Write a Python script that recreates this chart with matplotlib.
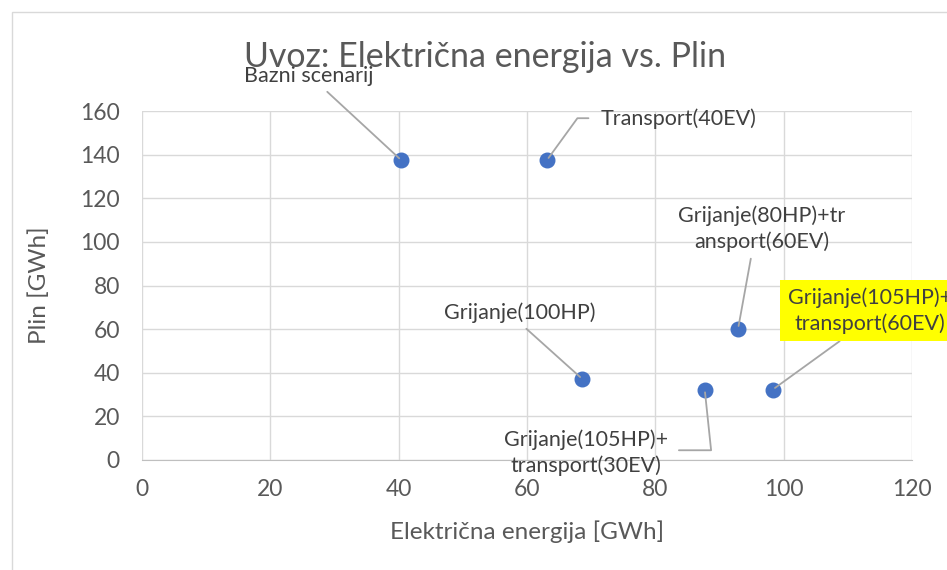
import matplotlib.pyplot as plt
from matplotlib.patches import Rectangle

# podaci ocitani sa slike
labels = ['Bazni scenarij', 'Transport(40EV)', 'Grijanje(100HP)',
          'Grijanje(105HP)+\ntransport(30EV)', 'Grijanje(80HP)+tr\nansport(60EV)',
          'Grijanje(105HP)+\ntransport(60EV)']
struja = [40.4, 63.1, 68.6, 87.7, 92.9, 98.3]
plin = [137.5, 137.5, 37.2, 32.3, 60.2, 32.3]

x_ticks = [0, 20, 40, 60, 80, 100, 120]
y_ticks = [0, 20, 40, 60, 80, 100, 120, 140, 160]

plt.rcParams['font.family'] = ['Lato', 'DejaVu Sans']
txt_col = '#595959'
grid_col = '#d9d9d9'

fig = plt.figure(figsize=(9.47, 5.7), dpi=100)
ax = fig.add_axes([0.150, 0.193, 0.813, 0.612])

# okvir grafikona
fig.patches.append(Rectangle((12 / 947, -0.1), 1.2, 1 - 12 / 570 + 0.1,
                             transform=fig.transFigure, fill=False,
                             edgecolor=grid_col, linewidth=1))

ax.scatter(struja, plin, s=110, color='#4472C4', zorder=3)

ax.set_xlim(0, 120)
ax.set_ylim(0, 160)
ax.set_xticks(x_ticks)
ax.set_yticks(y_ticks)
ax.grid(True, color=grid_col, linewidth=1)
ax.set_axisbelow(True)
for s in ['top', 'right', 'left']:
    ax.spines[s].set_visible(False)
ax.spines['bottom'].set_color('#bfbfbf')
ax.tick_params(length=0, labelsize=16.5, colors=txt_col)
ax.tick_params(axis='x', pad=14)
ax.tick_params(axis='y', pad=16)

ax.set_xlabel('Električna energija [GWh]', fontsize=17.5, color=txt_col, labelpad=14)
ax.set_ylabel('Plin [GWh]', fontsize=17.5, color=txt_col, labelpad=22)
fig.text(0.512, 0.9, 'Uvoz: Električna energija vs. Plin', fontsize=24.5,
         color=txt_col, ha='center', va='center')

# pozicije oznaka (pomak u pikselima od tocke) i tocka odakle krece linija
offsets = [(-93, 84), (132, 42), (-62, 66), (-119, -63), (24, 100), (97, 79)]
relpos = [(0.6, 0.0), (0.0, 0.5), (0.5, 0.0), (1.0, 0.55), (0.44, 0.0), (0.38, 0.0)]
conn = ['arc3', 'angle,angleA=0,angleB=54,rad=0', 'arc3',
        'angle,angleA=0,angleB=96,rad=0', 'arc3', 'arc3']
shrink = [3, 7, 3, 6, 3, 0]

for i in range(len(labels)):
    bbox = None
    if i == 5:
        bbox = dict(boxstyle='square,pad=0.35', facecolor='yellow', edgecolor='none')
    ax.annotate(labels[i], xy=(struja[i], plin[i]), xytext=offsets[i],
                textcoords='offset pixels', ha='center', va='center',
                fontsize=15.5, color='#404040', linespacing=1.3, bbox=bbox,
                annotation_clip=False,
                arrowprops=dict(arrowstyle='-', color='#a6a6a6', lw=1.3,
                                relpos=relpos[i], connectionstyle=conn[i],
                                shrinkA=shrink[i], shrinkB=2))

fig.savefig('out.png', dpi=100)
